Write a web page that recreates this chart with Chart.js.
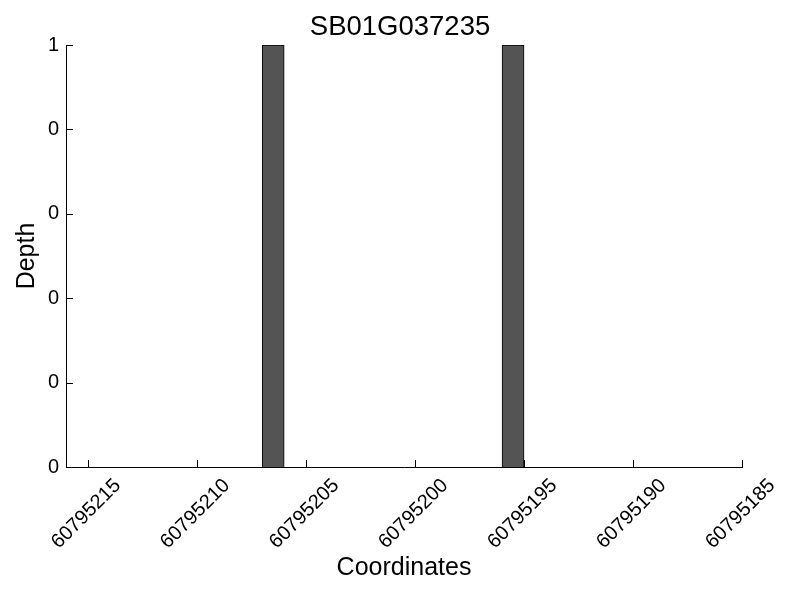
<!DOCTYPE html>
<html>
<head>
<meta charset="utf-8">
<script src="https://cdn.jsdelivr.net/npm/chart.js@4/dist/chart.umd.min.js"></script>
<style>
  html, body { margin: 0; padding: 0; background: #fff; }
  #wrap { width: 800px; height: 600px; }
</style>
</head>
<body>
<div id="wrap"><canvas id="depthChart" width="800" height="600"></canvas></div>
<script>
// values
const geneName = 'SB01G037235';
const coords = [60795206.5, 60795195.5];
const depth = [1, 1];
const xTickValues = [60795215, 60795210, 60795205, 60795200, 60795195, 60795190, 60795185];
const xMin = 60795185;
const xMax = 60795216;
const yTickValues = [0, 0.2, 0.4, 0.6, 0.8, 1];
const yTickLabels = ['0', '0', '0', '0', '0', '1'];

const FONT = "'Liberation Sans', Arial, sans-serif";

// gnuplot-style ticks pointing into the plot
const innerTicks = {
  id: 'innerTicks',
  afterDraw(chart) {
    const ctx = chart.ctx;
    const { x, y } = chart.scales;
    const area = chart.chartArea;
    ctx.save();
    ctx.strokeStyle = '#000';
    ctx.lineWidth = 1;
    ctx.beginPath();
    xTickValues.forEach(v => {
      const px = Math.round(x.getPixelForValue(v)) + 0.5;
      ctx.moveTo(px, area.bottom);
      ctx.lineTo(px, area.bottom - 7);
    });
    yTickValues.forEach(v => {
      const py = Math.round(y.getPixelForValue(v)) + 0.5;
      ctx.moveTo(area.left, py);
      ctx.lineTo(area.left + 7, py);
    });
    ctx.stroke();
    ctx.restore();
  }
};

new Chart(document.getElementById('depthChart'), {
  type: 'bar',
  data: {
    datasets: [{
      data: coords.map((c, i) => ({ x: c, y: depth[i] })),
      backgroundColor: '#545454',
      borderColor: '#000',
      borderWidth: 1,
      borderSkipped: 'start',
      barThickness: 22
    }]
  },
  options: {
    responsive: false,
    animation: false,
    events: [],
    layout: { padding: 0 },
    plugins: {
      legend: { display: false },
      tooltip: { enabled: false },
      title: {
        display: true,
        text: geneName,
        color: '#000',
        font: { family: FONT, size: 27.5, weight: 'normal' },
        padding: { top: 11, bottom: 1 }
      }
    },
    scales: {
      x: {
        type: 'linear',
        reverse: true,
        offset: false,
        min: xMin,
        max: xMax,
        afterBuildTicks: scale => { scale.ticks = xTickValues.map(v => ({ value: v })); },
        afterFit: scale => { scale.height = 133; scale.paddingLeft = 0; scale.paddingRight = 0; },
        grid: { display: false, drawTicks: false },
        border: { display: true, color: '#000', width: 1 },
        ticks: {
          color: '#000',
          font: { family: FONT, size: 20 },
          minRotation: 45,
          maxRotation: 45,
          padding: 7,
          labelOffset: 30,
          autoSkip: false,
          callback: v => String(v)
        },
        title: {
          display: true,
          text: 'Coordinates',
          color: '#000',
          font: { family: FONT, size: 25 },
          padding: { top: 4, bottom: 17 }
        }
      },
      y: {
        min: 0,
        max: 1,
        afterBuildTicks: scale => { scale.ticks = yTickValues.map(v => ({ value: v })); },
        afterFit: scale => { scale.width = 66; },
        grid: { display: false, drawTicks: false },
        border: { display: true, color: '#000', width: 1 },
        ticks: {
          color: '#000',
          font: { family: FONT, size: 20 },
          padding: 7,
          callback: (v, i) => yTickLabels[i]
        },
        title: {
          display: true,
          text: 'Depth',
          color: '#000',
          font: { family: FONT, size: 25 },
          padding: { top: 12, bottom: 4 }
        }
      },
      // empty right margin so the title centres over the plot like the original
      yRight: {
        position: 'right',
        min: 0,
        max: 1,
        afterFit: scale => { scale.width = 58; },
        grid: { display: false, drawTicks: false },
        border: { display: false },
        ticks: { display: false }
      }
    }
  },
  plugins: [innerTicks]
});
</script>
</body>
</html>
